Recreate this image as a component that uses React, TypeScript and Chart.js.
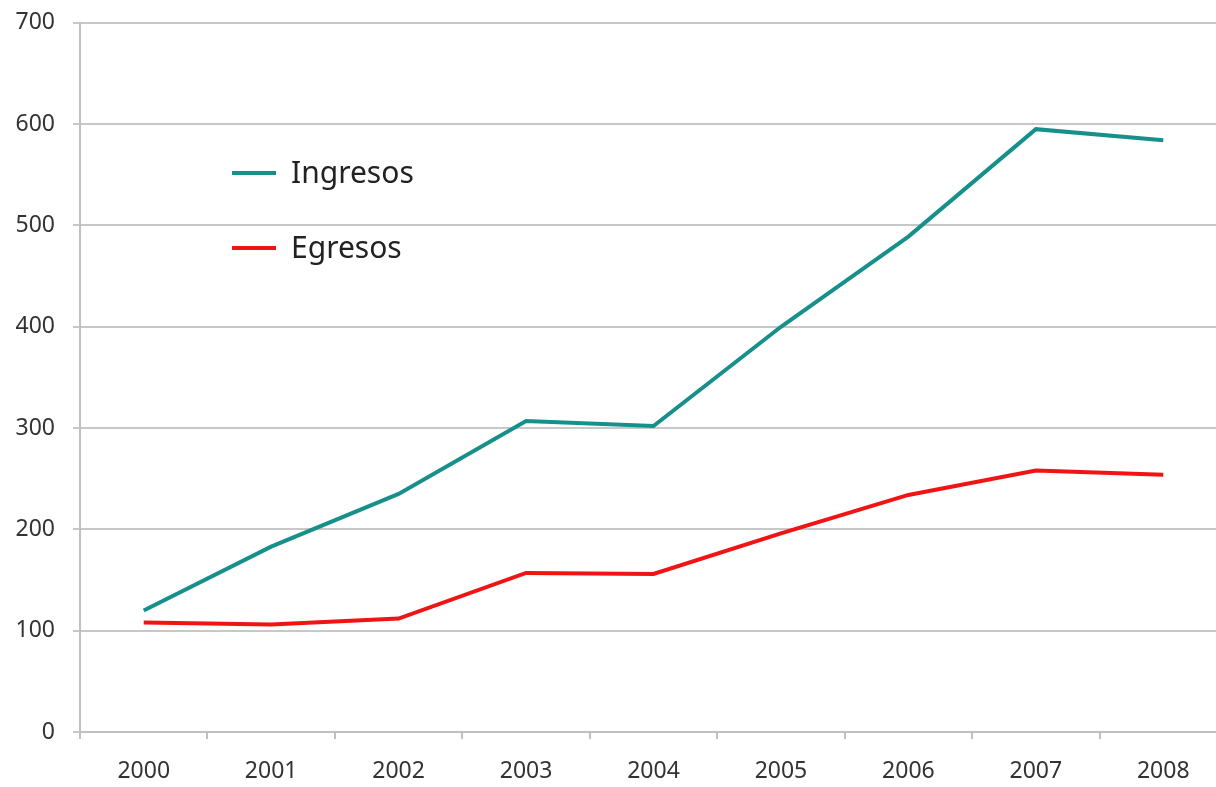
import React, { useEffect, useRef } from "react";
import { Chart, registerables } from "chart.js";

Chart.register(...registerables);

const years = ["2000", "2001", "2002", "2003", "2004", "2005", "2006", "2007", "2008"];
const ingresos = [120, 183, 235, 307, 302, 400, 489, 595, 584];
const egresos = [108, 106, 112, 157, 156, 196, 234, 258, 254];
const seriesNames = ["Ingresos", "Egresos"];
const seriesColors = ["#17908b", "#f01414"];

const FONT = "'Noto Sans', 'Open Sans', sans-serif";
const SHIFT = 9;

const insideLegend = {
  id: "insideLegend",
  afterDatasetsDraw(chart: any) {
    const ctx = chart.ctx;
    const rows = [173 + SHIFT, 248 + SHIFT];
    ctx.save();
    chart.data.datasets.forEach((ds: any, i: number) => {
      const y = rows[i];
      ctx.strokeStyle = ds.borderColor;
      ctx.lineWidth = 4;
      ctx.beginPath();
      ctx.moveTo(232, y);
      ctx.lineTo(276, y);
      ctx.stroke();
      ctx.fillStyle = "#222";
      ctx.font = `30px ${FONT}`;
      ctx.textBaseline = "middle";
      ctx.textAlign = "left";
      ctx.fillText(ds.label, 291, y + 1);
    });
    ctx.restore();
  },
};

export default function App() {
  const ref = useRef<HTMLCanvasElement>(null);
  useEffect(() => {
    document.body.style.margin = "0";
    const chart = new Chart(ref.current!, {
      type: "line",
      data: {
        labels: years,
        datasets: [
          { label: seriesNames[0], data: ingresos, borderColor: seriesColors[0], borderWidth: 4, pointRadius: 0, tension: 0, fill: false },
          { label: seriesNames[1], data: egresos, borderColor: seriesColors[1], borderWidth: 4, pointRadius: 0, tension: 0, fill: false },
        ],
      },
      options: {
        animation: false,
        responsive: false,
        maintainAspectRatio: false,
        layout: { padding: { left: 0, top: 8, right: 0, bottom: 0 } },
        plugins: { legend: { display: false }, tooltip: { enabled: false } },
        scales: {
          x: {
            offset: true,
            grid: { offset: true, drawOnChartArea: false, drawTicks: true, tickLength: 7, color: "#c0c0c0", lineWidth: 2 },
            border: { display: true, color: "#c0c0c0", width: 2 },
            ticks: { color: "#333", font: { family: FONT, size: 23 }, padding: 19, maxRotation: 0 },
            afterFit: (scale: any) => { scale.height = 55; },
          },
          y: {
            min: 0,
            max: 700,
            grid: { color: "#c8c8c8", lineWidth: 2, drawTicks: true, tickLength: 7 },
            border: { display: true, color: "#c0c0c0", width: 2 },
            ticks: { stepSize: 100, color: "#333", font: { family: FONT, size: 23 }, padding: 18 },
            afterFit: (scale: any) => { scale.width = 80; },
          },
        },
      },
      plugins: [insideLegend],
    });
    return () => chart.destroy();
  }, []);
  return (
    <div style={{ position: "absolute", left: 0, top: 0, width: 1216, height: 787, overflow: "hidden", background: "#fff" }}>
      <canvas ref={ref} width={1227} height={787 + SHIFT} style={{ display: "block", marginTop: -SHIFT }} />
    </div>
  );
}
